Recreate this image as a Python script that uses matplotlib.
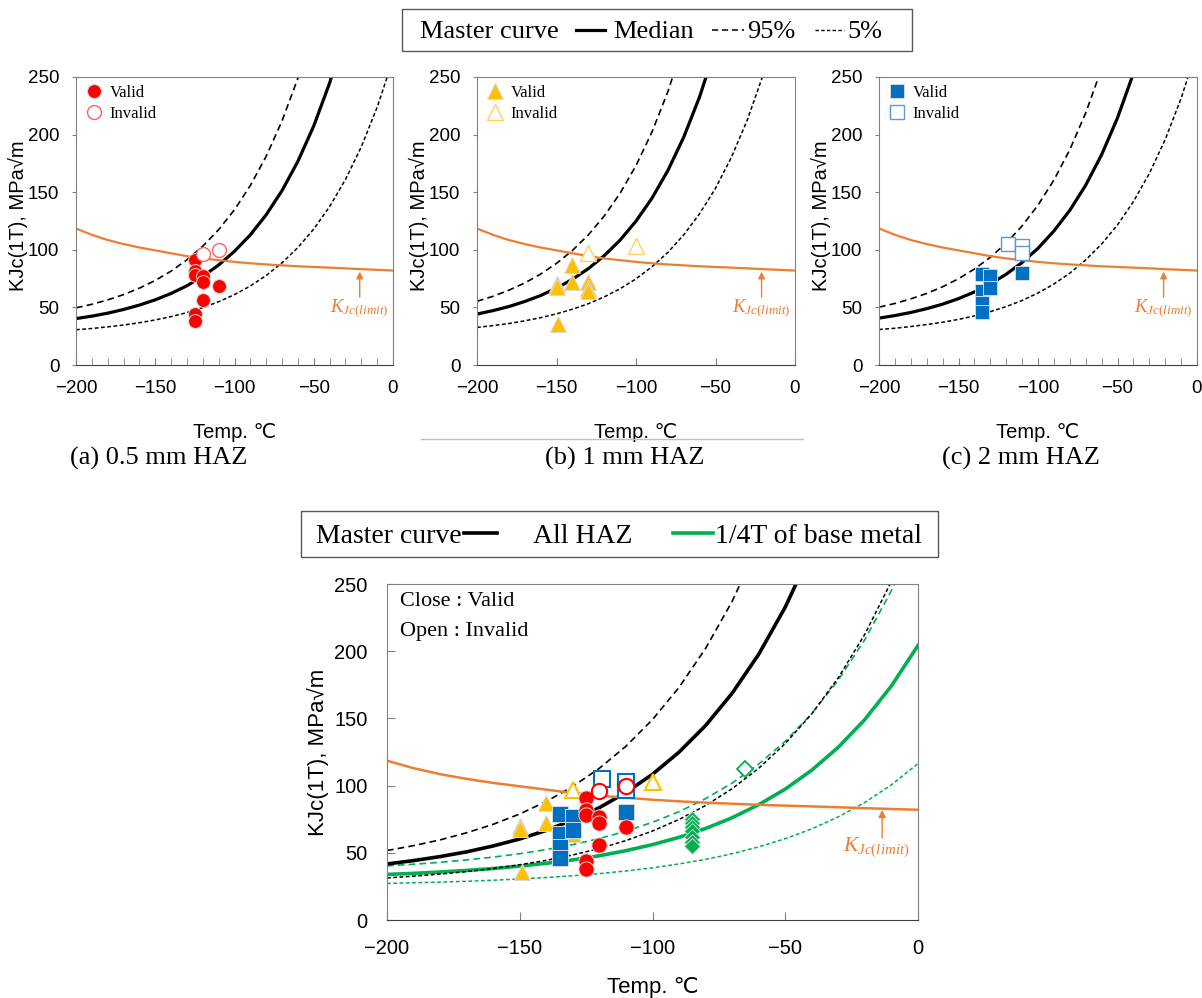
import matplotlib
matplotlib.use('Agg')
import matplotlib.pyplot as plt
from matplotlib.lines import Line2D
from matplotlib.patches import Rectangle

plt.rcParams['font.family'] = ['Liberation Sans', 'DejaVu Sans']
plt.rcParams['mathtext.fontset'] = 'custom'
plt.rcParams['mathtext.it'] = 'Liberation Serif:italic'
plt.rcParams['mathtext.rm'] = 'Liberation Serif'
SERIF = ['Liberation Serif', 'DejaVu Serif']

# temperature grid the curves were read at (deg C)
temp = [-200, -190, -180, -170, -160, -150, -140, -130, -120, -110, -100,
        -90, -80, -70, -60, -50, -40, -30, -20, -10, 0]

# master curves, KJc(1T) MPa sqrt(m)  (median, 95%, 5%)
a_med = [40.3, 42.4, 45.0, 48.2, 52.0, 56.6, 62.1, 68.8, 77.0, 86.8, 98.7, 113.0, 130.4, 151.4, 176.8, 207.5, 244.7, 289.6]
a_95 = [49.6, 52.7, 56.5, 61.1, 66.7, 73.4, 81.5, 91.3, 103.2, 117.5, 134.8, 155.8, 181.2, 211.9, 249.0, 293.8]
a_05 = [30.6, 31.7, 33.1, 34.7, 36.7, 39.1, 42.0, 45.5, 49.8, 54.9, 61.1, 68.6, 77.7, 88.7, 102.0, 118.0, 137.5, 161.0, 189.4, 223.7, 265.2]

b_med = [44.2, 47.2, 50.7, 55.1, 60.3, 66.7, 74.4, 83.6, 94.9, 108.4, 124.9, 144.7, 168.7, 197.7, 232.8, 275.3]
b_95 = [55.3, 59.6, 64.9, 71.2, 78.9, 88.2, 99.4, 112.9, 129.3, 149.1, 173.1, 202.1, 237.1, 279.5]
b_05 = [32.6, 34.2, 36.0, 38.3, 41.1, 44.4, 48.4, 53.2, 59.1, 66.2, 74.8, 85.2, 97.7, 112.9, 131.3, 153.4, 180.3, 212.7, 252.0, 299.4]

c_med = [40.7, 42.9, 45.6, 48.9, 52.8, 57.6, 63.4, 70.3, 78.8, 89.0, 101.3, 116.3, 134.3, 156.1, 182.5, 214.5, 253.1]
c_95 = [50.2, 53.4, 57.4, 62.1, 67.9, 74.9, 83.3, 93.5, 105.8, 120.7, 138.8, 160.5, 186.9, 218.8, 257.3]
c_05 = [30.8, 31.9, 33.4, 35.1, 37.1, 39.6, 42.6, 46.3, 50.7, 56.0, 62.5, 70.3, 79.7, 91.2, 105.0, 121.6, 141.8, 166.2, 195.7, 231.4, 274.6]

haz_med = [41.7, 44.2, 47.2, 50.7, 55.1, 60.3, 66.7, 74.4, 83.6, 94.9, 108.4, 124.9, 144.7, 168.7, 197.7, 232.8, 275.3]
haz_95 = [51.7, 55.3, 59.6, 64.9, 71.2, 78.9, 88.2, 99.4, 112.9, 129.3, 149.1, 173.1, 202.1, 237.1, 279.5]
haz_05 = [31.3, 32.6, 34.2, 36.0, 38.3, 41.1, 44.4, 48.4, 53.2, 59.1, 66.2, 74.8, 85.2, 97.7, 112.9, 131.3, 153.4, 180.3, 212.7, 252.0, 299.4]

base_med = [33.9, 34.7, 35.7, 36.9, 38.3, 40.1, 42.2, 44.7, 47.8, 51.6, 56.1, 61.5, 68.1, 76.1, 85.8, 97.4, 111.5, 128.6, 149.2, 174.2, 204.3]
base_95 = [40.3, 41.5, 42.9, 44.7, 46.8, 49.3, 52.4, 56.1, 60.6, 66.1, 72.7, 80.6, 90.3, 101.9, 116.0, 133.0, 153.6, 178.6, 208.7, 245.1, 289.1]
base_05 = [27.2, 27.7, 28.2, 28.8, 29.6, 30.5, 31.6, 32.9, 34.5, 36.5, 38.8, 41.7, 45.1, 49.3, 54.4, 60.5, 67.8, 76.8, 87.5, 100.6, 116.4]

# KJc(limit)
k_limit = [118.5, 113.0, 108.5, 105.0, 102.0, 99.5, 97.0, 94.5, 92.5, 91.0, 89.5,
           88.3, 87.3, 86.5, 85.7, 85.1, 84.5, 83.9, 83.2, 82.6, 82.0]

# test data
red_T = [-125, -125, -125, -120, -120, -110, -120, -125, -125]
red_K = [91, 82, 78, 77, 72, 69, 56, 44, 38]
red_T_inv = [-120, -110]
red_K_inv = [96, 100]

yel_T = [-150, -150, -149, -140, -140, -130, -130, -130]
yel_K = [70, 68, 36, 87, 72, 72, 67, 64]
yel_T_inv = [-130, -100]
yel_K_inv = [97, 103]

blu_T = [-135, -130, -135, -130, -135, -135, -110]
blu_K = [79, 77, 64, 67, 54, 46, 80]
blu_T_inv = [-119, -110, -110]
blu_K_inv = [105, 103, 97]

grn_T = [-85, -85, -85, -85, -85, -85, -85]
grn_K = [75, 72, 69, 66, 62, 58, 55]
grn_T_inv = [-65]
grn_K_inv = [112]

RED = '#FF0000'
YEL = '#FFC000'
BLU = '#0070C0'
GRN = '#00B050'
ORANGE = '#ED7D31'
EDGE = '#D9D9D9'
SPINE = '#808080'

fig = plt.figure(figsize=(12.02, 9.98), dpi=100)
W, H = 1202.0, 998.0


def box(x0, y0, x1, y1):
    return [x0 / W, 1 - y1 / H, (x1 - x0) / W, (y1 - y0) / H]


def curves(ax, med, up, lo, color, lw_med):
    ax.plot(temp[:len(up)], up, color=color, lw=1.2, ls=(0, (4, 2.5)), zorder=2)
    ax.plot(temp[:len(lo)], lo, color=color, lw=1.1, ls=(0, (2.5, 1.6)), zorder=2)
    ax.plot(temp[:len(med)], med, color=color, lw=lw_med, zorder=2)


def style_top(ax, minor):
    ax.set_xlim(-200, 0)
    ax.set_ylim(0, 250)
    ax.set_xticks([-200, -150, -100, -50, 0])
    ax.set_yticks([0, 50, 100, 150, 200, 250])
    if minor:
        ax.set_xticks(temp, minor=True)
    ax.tick_params(axis='x', which='both', direction='in', length=5, pad=11,
                   labelsize=13.5, color=SPINE)
    ax.tick_params(axis='y', direction='out', length=3, pad=9, labelsize=13.5, color=SPINE)
    for s in ax.spines.values():
        s.set_color(SPINE)
    ax.spines['bottom'].set_color('#404040')
    ax.set_xlabel('Temp. ℃', fontsize=14.5)
    ax.xaxis.set_label_coords(0.5, -0.2)
    ax.set_ylabel('KJc(1T), MPa√m', fontsize=14.5)
    ax.yaxis.set_label_coords(-0.15, 0.52)
    ax.plot(temp, k_limit, color=ORANGE, lw=1.6, zorder=2)
    ax.annotate('', xy=(-21, 81), xytext=(-21, 59),
                arrowprops=dict(arrowstyle='-|>', color=ORANGE, lw=1,
                                mutation_scale=10, shrinkA=0, shrinkB=0))
    ax.text(-21, 49, r'$K_{Jc(limit)}$', color=ORANGE, fontsize=13.5,
            ha='center', va='center')


def top_legend(ax):
    ax.legend(loc='upper left', frameon=False, prop={'family': SERIF, 'size': 12},
              handletextpad=0.3, borderaxespad=0.2, labelspacing=0.3,
              handlelength=1.2, borderpad=0.3)


# (a) 0.5 mm HAZ
ax_a = fig.add_axes(box(76, 77, 393, 365))
curves(ax_a, a_med, a_95, a_05, 'black', 2.3)
style_top(ax_a, True)
ax_a.plot(red_T, red_K, 'o', color=RED, ms=10, mec=EDGE, mew=0.7, label='Valid', zorder=4)
ax_a.plot(red_T_inv, red_K_inv, 'o', mfc='white', mec='#FF6060', ms=10, mew=1.0,
          label='Invalid', zorder=4)
top_legend(ax_a)

# (b) 1 mm HAZ
ax_b = fig.add_axes(box(477, 77, 795, 365))
curves(ax_b, b_med, b_95, b_05, 'black', 2.3)
style_top(ax_b, False)
ax_b.plot(yel_T, yel_K, '^', color=YEL, ms=11, mec=EDGE, mew=0.7, label='Valid', zorder=4)
ax_b.plot(yel_T_inv, yel_K_inv, '^', mfc='white', mec='#FFD060', ms=11, mew=1.0,
          label='Invalid', zorder=4)
top_legend(ax_b)

# (c) 2 mm HAZ
ax_c = fig.add_axes(box(879, 77, 1197, 365))
curves(ax_c, c_med, c_95, c_05, 'black', 2.3)
style_top(ax_c, True)
ax_c.plot(blu_T, blu_K, 's', color=BLU, ms=10, mec=EDGE, mew=0.7, label='Valid', zorder=4)
ax_c.plot(blu_T_inv, blu_K_inv, 's', mfc='white', mec='#5B9BD5', ms=10, mew=1.0,
          label='Invalid', zorder=4)
top_legend(ax_c)

# all HAZ + base metal
ax_d = fig.add_axes(box(387, 584, 918, 920))
curves(ax_d, base_med, base_95, base_05, GRN, 2.6)
curves(ax_d, haz_med, haz_95, haz_05, 'black', 2.6)
ax_d.plot(temp, k_limit, color=ORANGE, lw=1.8, zorder=2)
ax_d.plot(grn_T, grn_K, 'D', color=GRN, ms=8, mec=EDGE, mew=0.7, zorder=4)
ax_d.plot(grn_T_inv, grn_K_inv, 'D', mfc='white', mec=GRN, ms=8, mew=1.3, zorder=4)
ax_d.plot(yel_T, yel_K, '^', color=YEL, ms=12, mec=EDGE, mew=0.7, zorder=4)
ax_d.plot(yel_T_inv, yel_K_inv, '^', mfc='white', mec=YEL, ms=12, mew=1.5, zorder=4)
ax_d.plot(blu_T, blu_K, 's', color=BLU, ms=11, mec=EDGE, mew=0.7, zorder=5)
ax_d.plot(blu_T_inv, blu_K_inv, 's', mfc='white', mec=BLU, ms=11, mew=1.5, zorder=4)
ax_d.plot(red_T, red_K, 'o', color=RED, ms=11, mec=EDGE, mew=0.7, zorder=6)
ax_d.plot(red_T_inv, red_K_inv, 'o', mfc='white', mec=RED, ms=11, mew=1.5, zorder=6)
ax_d.annotate('', xy=(-13.5, 82), xytext=(-13.5, 61),
              arrowprops=dict(arrowstyle='-|>', color=ORANGE, lw=1,
                              mutation_scale=11, shrinkA=0, shrinkB=0))
ax_d.text(-15.5, 54, r'$K_{Jc(limit)}$', color=ORANGE, fontsize=15.5,
          ha='center', va='center')
ax_d.text(0.025, 0.947, 'Close : Valid', transform=ax_d.transAxes, family=SERIF,
          fontsize=16, va='center')
ax_d.text(0.025, 0.860, 'Open : Invalid', transform=ax_d.transAxes, family=SERIF,
          fontsize=16, va='center')
ax_d.set_xlim(-200, 0)
ax_d.set_ylim(0, 250)
ax_d.set_xticks([-200, -150, -100, -50, 0])
ax_d.set_yticks([0, 50, 100, 150, 200, 250])
ax_d.tick_params(axis='both', direction='in', length=6, labelsize=14.5, color=SPINE)
ax_d.tick_params(axis='x', pad=14)
ax_d.tick_params(axis='y', pad=14)
for s in ax_d.spines.values():
    s.set_color(SPINE)
ax_d.spines['bottom'].set_color('#404040')
ax_d.set_xlabel('Temp. ℃', fontsize=16)
ax_d.xaxis.set_label_coords(0.5, -0.17)
ax_d.set_ylabel('KJc(1T), MPa√m', fontsize=16)
ax_d.yaxis.set_label_coords(-0.11, 0.5)

# captions
for cx, txt in [(159, '(a) 0.5 mm HAZ'), (625, '(b) 1 mm HAZ'), (1021, '(c) 2 mm HAZ')]:
    fig.text(cx / W, 1 - 458 / H, txt, family=SERIF, fontsize=19, ha='center', va='center')
fig.add_artist(Line2D([421 / W, 803 / W], [1 - 439 / H, 1 - 439 / H],
                      color='#BFBFBF', lw=1, transform=fig.transFigure))

# figure-level legend boxes
fig.add_artist(Rectangle((402 / W, 1 - 51 / H), 510 / W, 42 / H, fill=False,
                         ec='#595959', lw=1, transform=fig.transFigure))
base_y = 1 - 38 / H
mid_y = 1 - 30 / H
fig.text(420 / W, base_y, 'Master curve', family=SERIF, fontsize=19, va='baseline')
fig.add_artist(Line2D([576 / W, 605 / W], [mid_y, mid_y], color='black', lw=2.3,
                      transform=fig.transFigure))
fig.text(613 / W, base_y, 'Median', family=SERIF, fontsize=19, va='baseline')
fig.add_artist(Line2D([712 / W, 744 / W], [mid_y, mid_y], color='black', lw=1.1,
                      ls=(0, (4, 2.5)), transform=fig.transFigure))
fig.text(747 / W, base_y, '95%', family=SERIF, fontsize=19, va='baseline')
fig.add_artist(Line2D([815 / W, 844 / W], [mid_y, mid_y], color='black', lw=1.0,
                      ls=(0, (2.5, 1.6)), transform=fig.transFigure))
fig.text(847 / W, base_y, '5%', family=SERIF, fontsize=19, va='baseline')

fig.add_artist(Rectangle((301 / W, 1 - 557 / H), 637 / W, 46 / H, fill=False,
                         ec='#595959', lw=1, transform=fig.transFigure))
base_y = 1 - 543 / H
mid_y = 1 - 533 / H
fig.text(316 / W, base_y, 'Master curve', family=SERIF, fontsize=20, va='baseline')
fig.add_artist(Line2D([464 / W, 497 / W], [mid_y, mid_y], color='black', lw=2.6,
                      transform=fig.transFigure))
fig.text(533 / W, base_y, 'All HAZ', family=SERIF, fontsize=20, va='baseline')
fig.add_artist(Line2D([673 / W, 713 / W], [mid_y, mid_y], color=GRN, lw=2.6,
                      transform=fig.transFigure))
fig.text(715 / W, base_y, '1/4T of base metal', family=SERIF, fontsize=20, va='baseline')

fig.savefig('out.png', dpi=100)
